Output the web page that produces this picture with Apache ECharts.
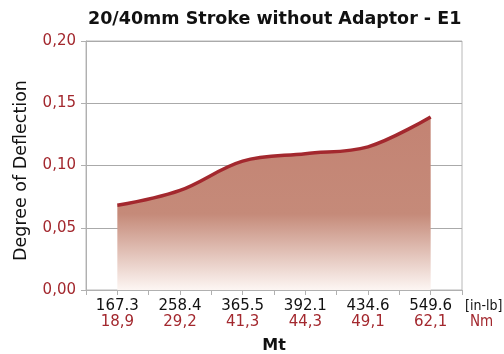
<!DOCTYPE html>
<html>
<head>
<meta charset="utf-8">
<script src="https://cdn.jsdelivr.net/npm/echarts@6/dist/echarts.min.js"></script>
<style>
  html, body { margin: 0; padding: 0; background: #ffffff; }
  #chart { width: 504px; height: 354px; }
</style>
</head>
<body>
<div id="chart"></div>
<script>
// Torque steps in two units and the measured deflection at each step
const torqueInLb = ['167.3', '258.4', '365.5', '392.1', '434.6', '549.6'];
const torqueNm = ['18,9', '29,2', '41,3', '44,3', '49,1', '62,1'];
const deflection = [0.068, 0.080, 0.1035, 0.1095, 0.115, 0.139];
const yTicks = { min: 0, max: 0.2, step: 0.05 };

const RED = '#a3282e';
const TEXT_FONT = 'DejaVu Sans';

const chart = echarts.init(document.getElementById('chart'), null, { renderer: 'canvas' });

chart.setOption({
  animation: false,
  backgroundColor: '#ffffff',
  title: {
    text: '20/40mm Stroke without Adaptor - E1',
    left: 83,
    top: 5,
    textStyle: { fontFamily: TEXT_FONT, fontSize: 17.5, fontWeight: 'bold', color: '#111111' }
  },
  grid: {
    left: 86, right: 42, top: 41, bottom: 64,
    outerBoundsMode: 'none',
    containLabel: false,
    show: true, borderColor: '#b8b8b8', borderWidth: 1
  },
  xAxis: [
    {
      type: 'category',
      data: torqueInLb,
      boundaryGap: true,
      axisLine: { lineStyle: { color: '#b0b0b0', width: 1 } },
      axisTick: { show: true, length: 5, lineStyle: { color: '#b0b0b0' } },
      axisLabel: {
        margin: 8,
        formatter: (v, i) => '{a|' + v + '}\n{b|' + torqueNm[i] + '}',
        rich: {
          a: { fontFamily: TEXT_FONT, fontSize: 15, color: '#111111', lineHeight: 16 },
          b: { fontFamily: TEXT_FONT, fontSize: 15, color: RED, lineHeight: 16 }
        }
      },
      name: 'Mt',
      nameLocation: 'middle',
      nameGap: 48,
      nameTextStyle: { fontFamily: TEXT_FONT, fontSize: 16, fontWeight: 'bold', color: '#111111' }
    },
    {
      // overlay axis that puts extra ticks at the category centres
      type: 'category',
      data: torqueInLb,
      position: 'bottom',
      boundaryGap: true,
      axisLine: { show: false },
      axisTick: { show: true, alignWithLabel: true, length: 5, lineStyle: { color: '#b0b0b0' } },
      axisLabel: { show: false }
    }
  ],
  yAxis: {
    type: 'value',
    min: yTicks.min,
    max: yTicks.max,
    interval: yTicks.step,
    axisLine: { show: true, lineStyle: { color: '#b0b0b0', width: 1 } },
    axisTick: { show: true, length: 5, lineStyle: { color: '#b0b0b0' } },
    axisLabel: {
      margin: 10,
      fontFamily: TEXT_FONT, fontSize: 15, color: RED,
      formatter: v => v.toFixed(2).replace('.', ',')
    },
    splitLine: { show: true, lineStyle: { color: '#aaaaaa', width: 1 } },
    name: 'Degree of Deflection',
    nameLocation: 'middle',
    nameGap: 56,
    nameTextStyle: { fontFamily: TEXT_FONT, fontSize: 17.5, color: '#111111', padding: [0, 10, 0, 0] }
  },
  graphic: [
    {
      type: 'text', left: 465, top: 299,
      style: { text: '[in-lb]', fontFamily: 'DejaVu Sans Condensed', fontSize: 14, fill: '#111111' }
    },
    {
      type: 'text', left: 470, top: 315,
      style: { text: 'Nm', fontFamily: 'DejaVu Sans Condensed', fontSize: 15, fill: RED }
    }
  ],
  series: [
    {
      type: 'line',
      data: deflection,
      smooth: 0.35,
      symbol: 'none',
      lineStyle: { color: RED, width: 3.5 },
      areaStyle: {
        color: {
          type: 'linear', x: 0, y: 0, x2: 0, y2: 1,
          colorStops: [
            { offset: 0, color: '#c38373' },
            { offset: 0.56, color: '#c58a79' },
            { offset: 1, color: '#fdf6f3' }
          ]
        },
        opacity: 1
      }
    }
  ]
});
</script>
</body>
</html>
